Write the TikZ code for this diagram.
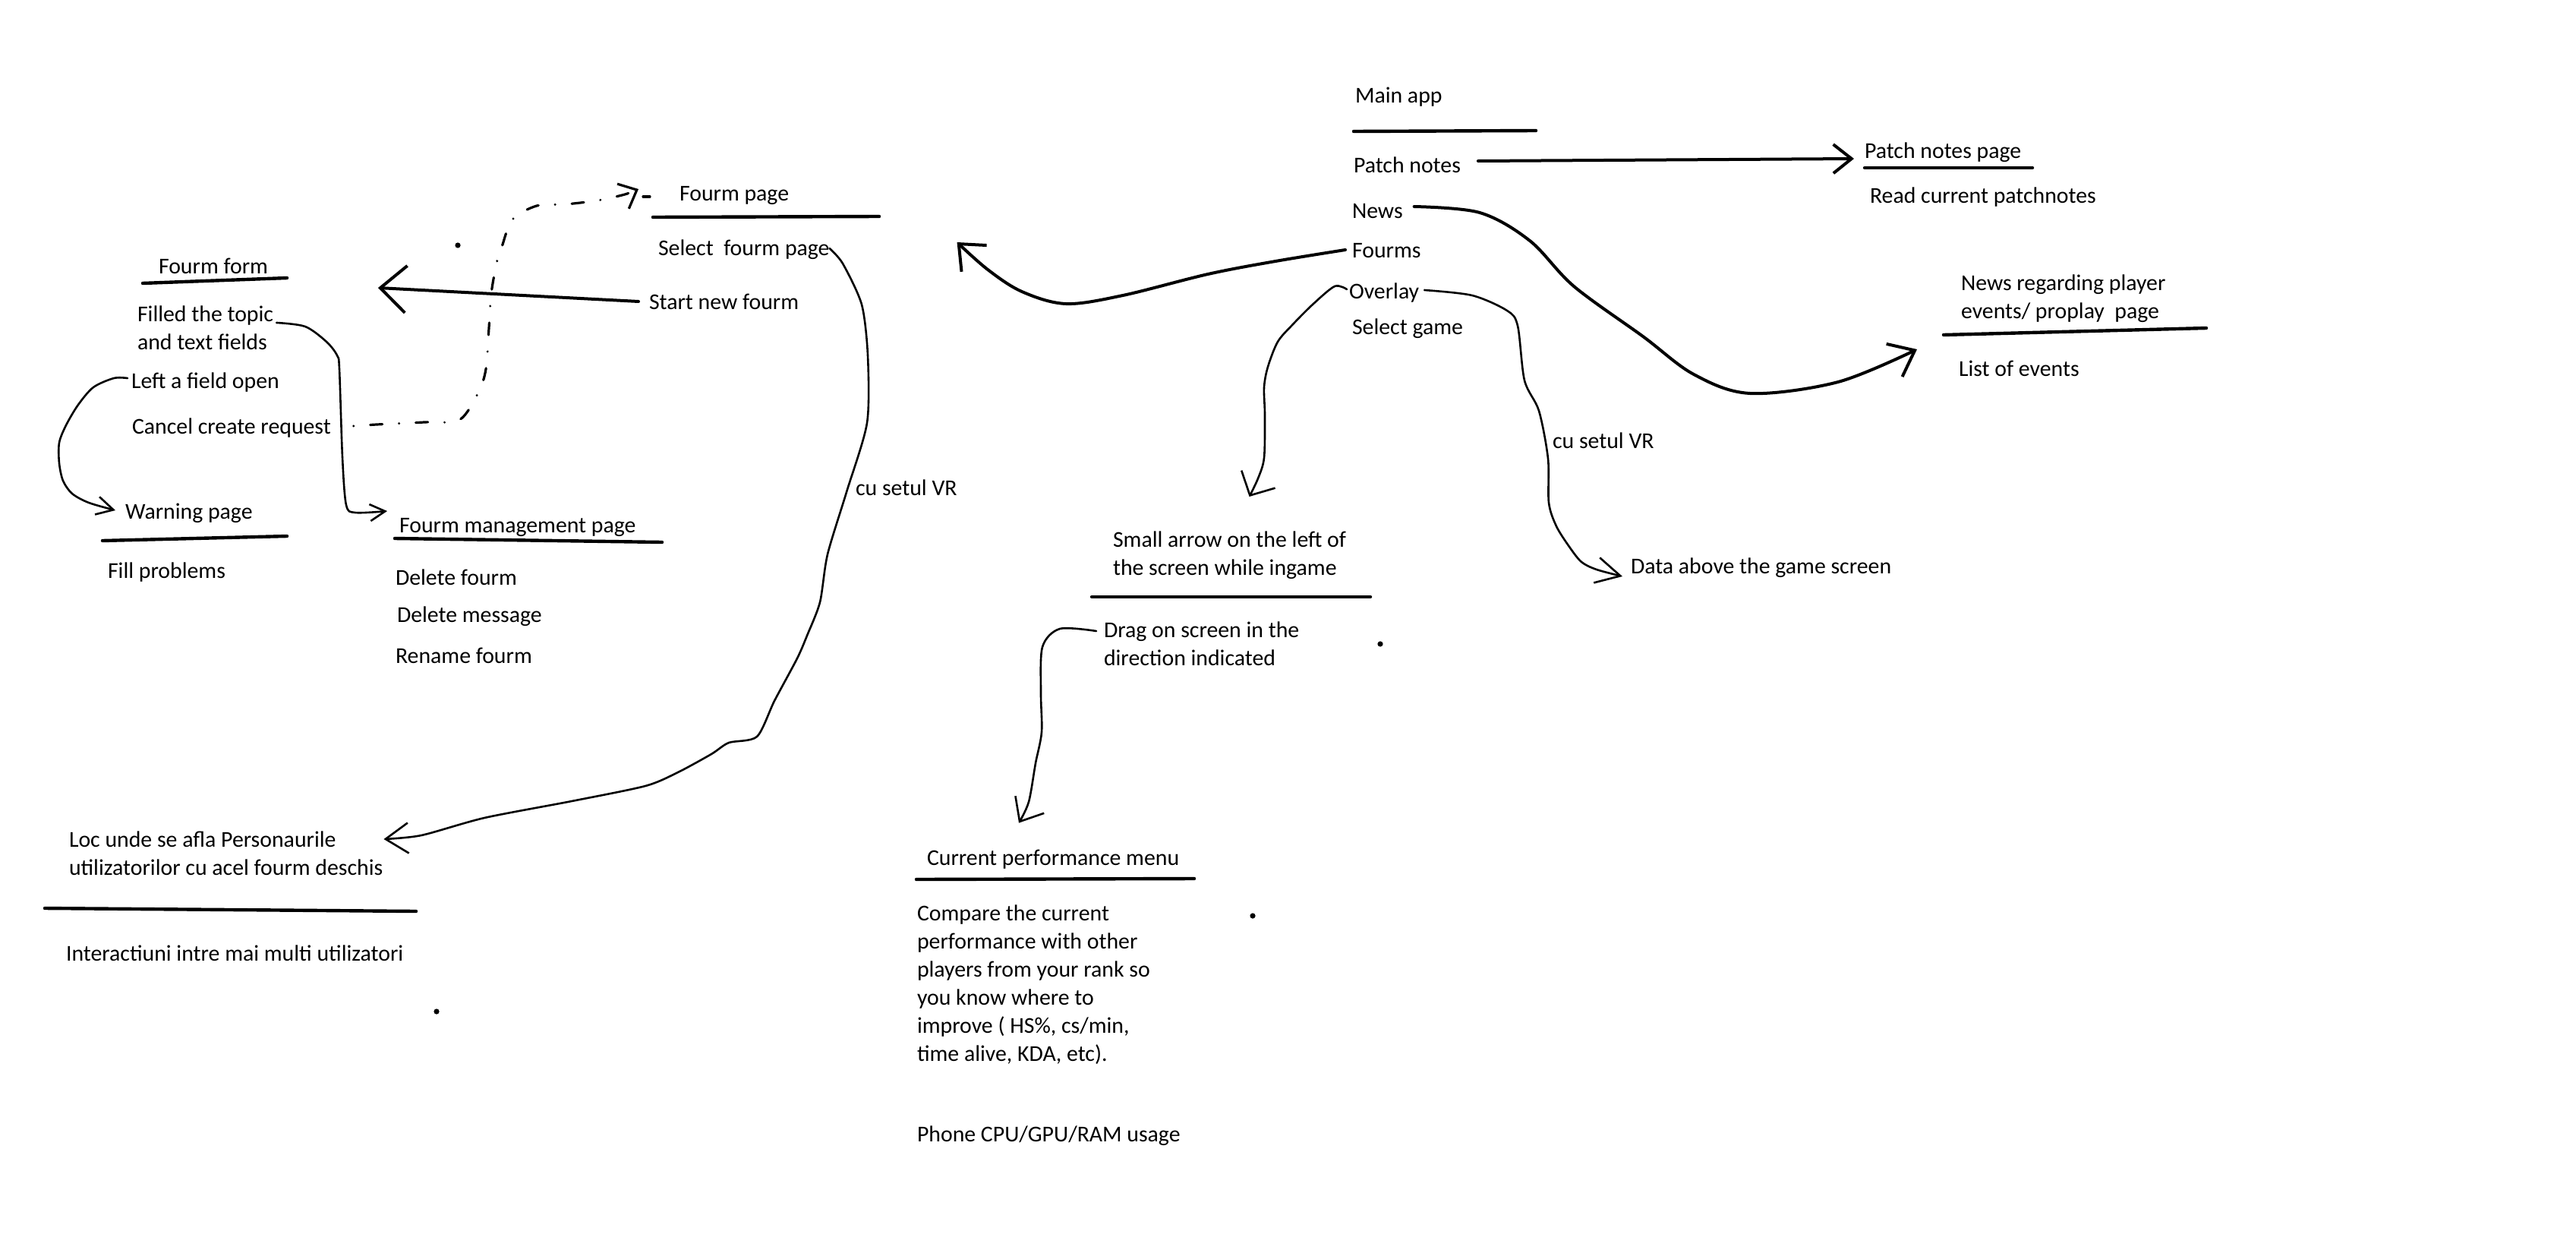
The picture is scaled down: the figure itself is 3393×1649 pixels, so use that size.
\documentclass[tikz,border=0pt]{standalone}
\usepackage{fontspec}
\setmainfont{Carlito}
\usetikzlibrary{arrows.meta,calc}
\begin{document}
\begin{tikzpicture}[x=0.5pt,y=-0.5pt,
  lbl/.style={anchor=west,inner sep=0pt,outer sep=0pt,text height=0.64em,text depth=0pt,yshift=-2pt,
    font=\fontsize{14.9pt}{18.5pt}\selectfont},
  blk/.style={anchor=north west,inner sep=0pt,outer sep=0pt,align=left,yshift=-2pt,
    font=\fontsize{14.9pt}{18.5pt}\selectfont},
  underl/.style={line width=2.2pt,line cap=round},
  heavy/.style={line width=2pt,line cap=round,line join=round},
  fineline/.style={line width=1.3pt,line cap=round,line join=round},
  dashdot/.style={line width=1.6pt,line cap=round,dash pattern=on 0pt off 11pt on 8pt off 11pt},
]
\fill[white] (0,0) rectangle (3393,1649);
\useasboundingbox (0,0) rectangle (3393,1649);

% ---------- main app menu ----------
\node[lbl] (mainapp) at (1785,125) {Main app};
\node[lbl] (patch)   at (1783,217) {Patch notes};
\node[lbl] (news)    at (1781,277) {News};
\node[lbl] (fourms)  at (1781,329) {Fourms};
\node[lbl] (overlay) at (1777,383) {Overlay};
\node[lbl] (selgame) at (1781,430) {Select game};

% ---------- patch notes / news ----------
\node[lbl] (pnpage) at (2456,198) {Patch notes page};
\node[lbl] (readpn) at (2463,257) {Read current patchnotes};
\node[blk] (newspage) at (2583,358) {News regarding player\\events/ proplay\ \ page};
\node[lbl] (events) at (2580,485) {List of events};

% ---------- forum pages ----------
\node[lbl] (fpage)    at (895,254) {Fourm page};
\node[lbl] (selfourm) at (867,326) {Select\ \ fourm page};
\node[lbl] (startnew) at (855,397) {Start new fourm};
\node[lbl] (fform)    at (209,350) {Fourm form};
\node[blk] (filled)   at (181,399) {Filled the topic\\and text fields};
\node[lbl] (leftopen) at (173,501) {Left a field open};
\node[lbl] (cancel)   at (174,561) {Cancel create request};
\node[lbl] (warning)  at (165,673) {Warning page};
\node[lbl] (fillprob) at (142,751) {Fill problems};
\node[lbl] (mgmt)     at (526,691) {Fourm management page};
\node[lbl] (delf)     at (521,760) {Delete fourm};
\node[lbl] (delm)     at (523,809) {Delete message};
\node[lbl] (renf)     at (521,863) {Rename fourm};
\node[lbl] (vrleft)   at (1127,642) {cu setul VR};
\node[blk] (loc)      at (91,1091) {Loc unde se afla Personaurile\\utilizatorilor cu acel fourm deschis};
\node[lbl] (inter)    at (87,1255) {Interactiuni intre mai multi utilizatori};

% ---------- overlay ----------
\node[blk] (small)   at (1466,696) {Small arrow on the left of\\the screen while ingame};
\node[blk] (drag)    at (1454,815) {Drag on screen in the\\direction indicated};
\node[lbl] (vrright) at (2045,580) {cu setul VR};
\node[lbl] (data)    at (2148,745) {Data above the game screen};
\node[lbl] (perf)    at (1221,1129) {Current performance menu};
\node[blk] (compare) at (1208,1188) {Compare the current\\performance with other\\players from your rank so\\you know where to\\improve ( HS\%, cs/min,\\time alive, KDA, etc).};
\node[lbl] (phone)   at (1208,1493) {Phone CPU/GPU/RAM usage};

% ---------- header rules ----------
\draw[underl] (1783,173) -- (2023,172);
\draw[underl] (2456,221) -- (2677,221);
\draw[underl] (2560,441) -- (2906,432);
\draw[underl] (860,286) -- (1158,285);
\draw[underl] (188,373) -- (378,366);
\draw[underl] (135,712) -- (378,706);
\draw[underl] (520,709) -- (872,714);
\draw[underl] (1438,786) -- (1805,786);
\draw[underl] (1207,1158) -- (1573,1157);
\draw[underl] (59,1196) -- (548,1200);

% ---------- connector end points ----------
\coordinate (patch-out)   at ($(patch.east)+(23,-9)$);
\coordinate (pnpage-in)   at ($(pnpage.west)+(-14,7)$);
\coordinate (news-out)    at ($(news.east)+(15,-9)$);
\coordinate (newspage-in) at ($(events.west)+(-55,-29)$);
\coordinate (fourms-out)  at ($(fourms.west)+(-9,-4)$);
\coordinate (fourms-in)   at ($(selfourm.east)+(168,-11)$);
\coordinate (ovl-out)     at ($(overlay.west)+(-3,-6)$);
\coordinate (small-in)    at ($(small.north)+(26,-46)$);
\coordinate (ovr-out)     at ($(overlay.east)+(7,-5)$);
\coordinate (data-in)     at ($(data.west)+(-11,10)$);
\coordinate (start-out)   at ($(startnew.west)+(-14,-4)$);
\coordinate (fform-in)    at ($(fform.east)+(145,25)$);
\coordinate (filled-out)  at ($(filled.east)+(4,-7)$);
\coordinate (mgmt-in)     at ($(mgmt.west)+(-16,-22)$);
\coordinate (left-out)    at ($(leftopen.west)+(-5,-7)$);
\coordinate (warning-in)  at ($(warning.west)+(-13,-5)$);
\coordinate (cancel-out)  at ($(cancel.east)+(30,-4)$);
\coordinate (fpage-in)    at ($(fpage.west)+(-54,-9)$);
\coordinate (sel-out)     at ($(selfourm.east)+(0,-3)$);
\coordinate (loc-in)      at ($(loc.north east)+(1,10)$);
\coordinate (drag-out)    at ($(drag.north west)+(-10,12)$);
\coordinate (perf-in)     at ($(perf.north west)+(121,-43)$);

% ---------- connectors from the main menu ----------
\draw[heavy,-{Straight Barb[length=12pt,width=19pt]}] (patch-out) -- (pnpage-in);
\draw[heavy,-{Straight Barb[length=15pt,width=24pt]}] plot[smooth,tension=0.55] coordinates
  {(news-out) (1949,280) (2015,317) (2073,377) (2164,443) (2231,493) (2305,518) (2421,503) (newspage-in)};
\draw[heavy,-{Straight Barb[length=14pt,width=24pt]}] plot[smooth,tension=0.55] coordinates
  {(fourms-out) (1680,344) (1591,361) (1479,389) (1404,400) (1346,384) (1301,355) (fourms-in)};
\draw[fineline,-{Straight Barb[length=12pt,width=25pt]}] plot[smooth,tension=0.5] coordinates
  {(ovl-out) (1758,377) (1730,400) (1703,427) (1683,450) (1670,483) (1665,510) (1666,547) (1665,603) (1657,630) (small-in)};
\draw[fineline,-{Straight Barb[length=16pt,width=17pt]}] plot[smooth,tension=0.5] coordinates
  {(ovr-out) (1939,389) (1985,409) (1999,429) (2008,501) (2027,541) (2039,604) (2040,662) (2050,693) (2067,720) (2083,740) (2103,750) (data-in)};
\draw[fineline,-{Straight Barb[length=13pt,width=22pt]}] plot[smooth,tension=0.5] coordinates
  {(drag-out) (1396,828) (1373,852) (1371,913) (1372,964) (1364,1005) (1355,1056) (perf-in)};

% ---------- forum connectors ----------
\draw[heavy,-{Straight Barb[length=17pt,width=31pt]}] (start-out) -- (fform-in);
\draw[fineline,-{Straight Barb[length=10pt,width=11pt]}] plot[smooth,tension=0.5] coordinates
  {(filled-out) (402,430) (430,450) (444,468) (447,486) (451,602) (456,665) (468,675) (mgmt-in)};
\draw[fineline,-{Straight Barb[length=11pt,width=12pt]}] plot[smooth,tension=0.5] coordinates
  {(left-out) (150,498) (123,510) (103,533) (87,560) (78,583) (78,610) (83,633) (95,650) (117,662) (warning-in)};
\draw[dashdot,-{Straight Barb[length=10pt,width=18pt]}] plot[smooth,tension=0.5] coordinates
  {(cancel-out) (496,559) (559,556) (605,553) (630,517) (640,486) (644,432) (647,387) (654,347) (661,325) (675,289) (707,271) (745,269) (787,264) (823,256) (fpage-in)};
\draw[line width=1.6pt,line cap=round] ($(fpage.west)+(-48,1)$) -- ++(9,0);
\draw[fineline,-{Straight Barb[length=15pt,width=20pt]}] plot[smooth,tension=0.45] coordinates
  {(sel-out) (1110,347) (1135,401) (1143,468) (1142,557) (1115,648) (1090,730) (1080,793) (1063,837) (1050,867) (1020,923) (997,970) (960,978) (937,993) (893,1017) (850,1035) (753,1055) (638,1077) (555,1100) (loc-in)};

% ---------- stray pen dots ----------
\fill (603,323) circle[radius=1.8pt];
\fill (1818,848) circle[radius=1.8pt];
\fill (1650,1206) circle[radius=1.8pt];
\fill (575,1332) circle[radius=1.8pt];
\end{tikzpicture}
\end{document}
